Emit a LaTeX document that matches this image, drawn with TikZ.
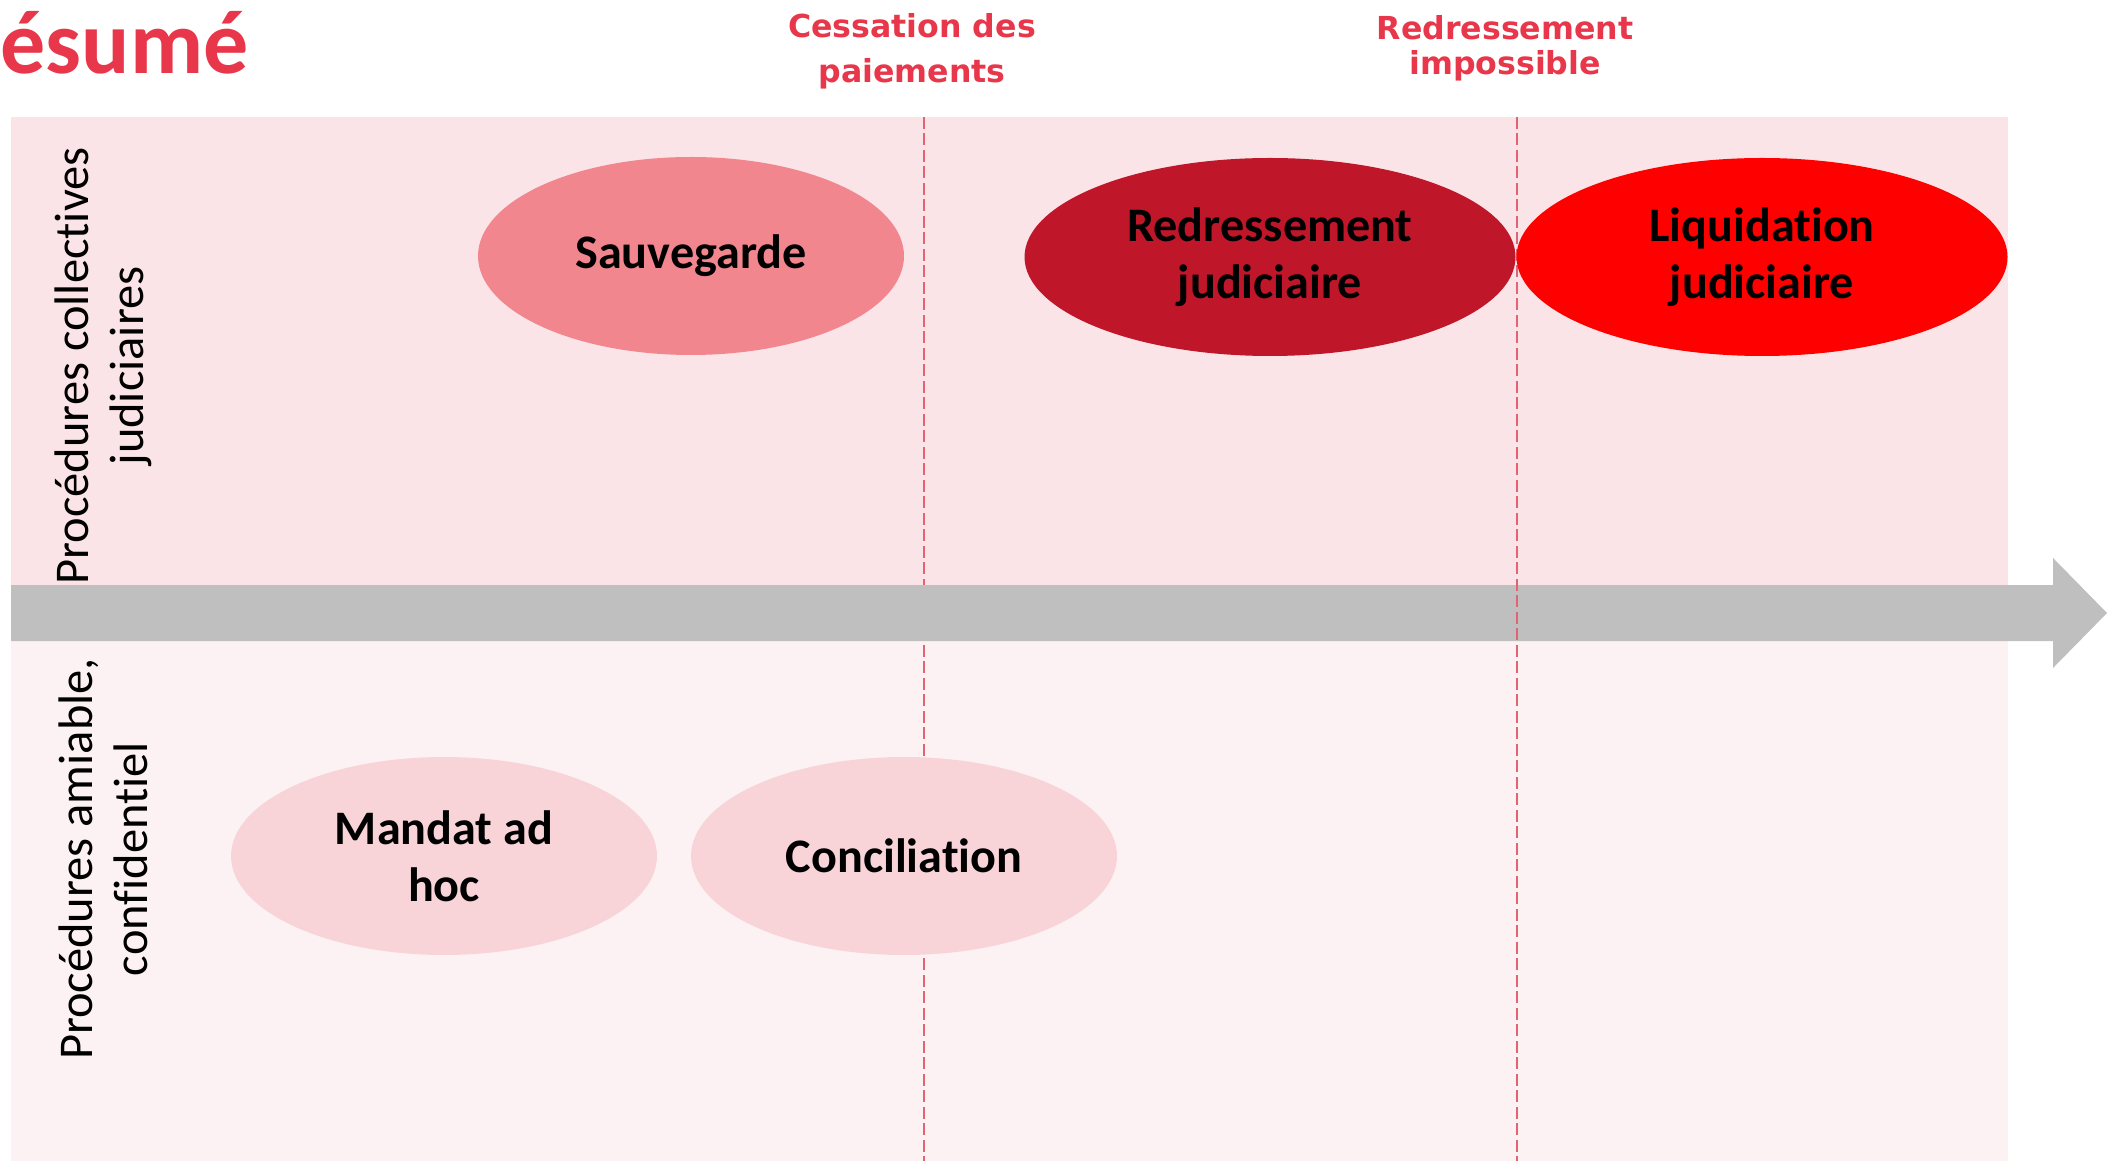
\documentclass[tikz,border=0pt]{standalone}
\usepackage{fontspec}
\setmainfont{Carlito}[Ligatures=NoCommon]
\newfontfamily\enteteface{DejaVu Sans}
\usetikzlibrary{shapes.geometric}

\definecolor{rougetitre}{HTML}{E8364A}
\definecolor{bandehaut}{HTML}{FBE4E7}
\definecolor{bandebas}{HTML}{FDF2F3}
\definecolor{fleche}{HTML}{BFBFBF}
\definecolor{tirets}{HTML}{E26371}
\definecolor{sauvegarde}{HTML}{F2868F}
\definecolor{redressement}{HTML}{BF1729}
\definecolor{liquidation}{HTML}{FF0000}
\definecolor{amiable}{HTML}{F8D4D9}

\tikzset{
  procedure/.style={ellipse, inner sep=0pt, align=center,
    minimum width=42.6mm, minimum height=19.8mm,
    font=\fontsize{13.7}{16.2}\selectfont\bfseries},
  grande/.style={procedure, minimum width=49.1mm},
  entete/.style={align=center, text=rougetitre, inner sep=0pt,
    font=\enteteface\fontsize{9}{#1}\selectfont\bfseries},
  categorie/.style={rotate=90, align=center, inner sep=0pt,
    font=\fontsize{13.8}{15.6}\selectfont},
  limite/.style={tirets, line width=0.6pt, dash pattern=on 1.2mm off 0.45mm}
}

\begin{document}
\begin{tikzpicture}[x=0.1mm, y=-0.1mm]
  \useasboundingbox (0,0) rectangle (2109,1163);

  % Bandes
  \fill[bandehaut] (11,117) rectangle (2008,613);
  \fill[bandebas] (11,613) rectangle (2008,1161);

  % Limites
  \coordinate (cessation haut) at (924,117);
  \coordinate (cessation bas) at (924,1161);
  \coordinate (impossible haut) at (1517,117);
  \coordinate (impossible bas) at (1517,1161);
  \draw[limite] (cessation haut) -- (cessation bas);

  % Fleche du temps
  \fill[fleche] (11,585) -- (2053,585) -- (2053,558) -- (2107,613)
    -- (2053,668) -- (2053,641) -- (11,641) -- cycle;
  \draw[limite] (impossible haut) -- (impossible bas);

  % Titre et reperes
  \node[anchor=base west, inner sep=0pt, text=rougetitre,
    font=\fontsize{25.6}{30}\selectfont\bfseries] (titre) at (0,74) {ésumé};
  \node[entete=12.8pt] (cessation) at (912,51) {Cessation des\\paiements};
  \node[entete=10pt] (impossible) at (1505,48) {Redressement\\impossible};

  % Categories
  \node[categorie] (collectives) at (103,366) {Procédures collectives\\judiciaires};
  \node[categorie] (amiables) at (103,859) {Procédures amiable,\\confidentiel};

  % Procedures collectives
  \node[procedure, fill=sauvegarde] (sauvegarde) at (691,256) {Sauvegarde};
  \node[grande, fill=redressement] (redressement) at (1270,257) {Redressement\\judiciaire};
  \node[grande, fill=liquidation] (liquidation) at (1762,257) {Liquidation\\judiciaire};

  % Procedures amiables
  \node[procedure, fill=amiable] (mandat) at (444,856) {Mandat ad\\hoc};
  \node[procedure, fill=amiable] (conciliation) at (904,856) {Conciliation};
\end{tikzpicture}
\end{document}
